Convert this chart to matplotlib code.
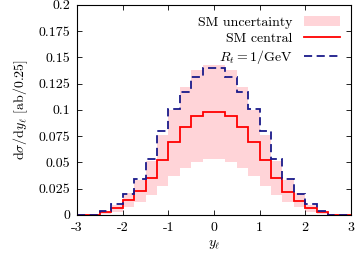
import matplotlib
matplotlib.use("Agg")
import matplotlib.pyplot as plt
import numpy as np
from matplotlib.lines import Line2D
from matplotlib.patches import Patch
from matplotlib.ticker import FuncFormatter, MultipleLocator

# bin edges in y_l, width 0.25
edges = np.arange(-3.0, 3.0001, 0.25)

# SM central prediction per bin
sm_central = [0, 0, 0.0028, 0.0062, 0.0140, 0.0225, 0.0350, 0.0520, 0.0690, 0.0835, 0.0938, 0.0977,
              0.0977, 0.0938, 0.0835, 0.0690, 0.0520, 0.0350, 0.0222, 0.0135, 0.0064, 0.0029, 0, 0]
# SM uncertainty band
sm_upper = [0, 0, 0.0030, 0.0098, 0.0210, 0.0335, 0.0515, 0.0762, 0.1000, 0.1215, 0.1375, 0.1430,
            0.1430, 0.1375, 0.1215, 0.1000, 0.0762, 0.0515, 0.0335, 0.0210, 0.0098, 0.0032, 0, 0]
sm_lower = [0, 0, 0.0008, 0.0030, 0.0079, 0.0127, 0.0190, 0.0279, 0.0372, 0.0450, 0.0508, 0.0530,
            0.0530, 0.0508, 0.0450, 0.0372, 0.0279, 0.0190, 0.0127, 0.0079, 0.0030, 0.0008, 0, 0]
# R_t = 1/GeV
rt_1gev = [0, 0, 0.0033, 0.0102, 0.0197, 0.0343, 0.0530, 0.0797, 0.1010, 0.1167, 0.1314, 0.1395,
           0.1395, 0.1314, 0.1167, 0.1010, 0.0797, 0.0530, 0.0343, 0.0197, 0.0102, 0.0038, 0, 0]

plt.rcParams["font.family"] = "serif"
plt.rcParams["font.serif"] = ["cmr10", "DejaVu Serif"]
plt.rcParams["mathtext.fontset"] = "cm"
plt.rcParams["axes.formatter.use_mathtext"] = True
plt.rcParams["font.size"] = 10

band_col = "#ffd4d8"
red = "#ff0000"
blue = "#1a1a8a"

fig = plt.figure(figsize=(3.57, 2.54), dpi=100)
ax = fig.add_axes([0.216, 0.154, 0.767, 0.827])

ax.stairs(sm_upper, edges, baseline=sm_lower, fill=True, color=band_col, lw=0)
ax.stairs(sm_central, edges, color=red, lw=1.3)
ax.stairs(rt_1gev, edges, color=blue, lw=1.3, linestyle=(0, (4.5, 2.5)))

ax.set_xlim(-3, 3)
ax.set_ylim(0, 0.2)
ax.xaxis.set_major_locator(MultipleLocator(1))
ax.yaxis.set_major_locator(MultipleLocator(0.025))
ax.xaxis.set_major_formatter(FuncFormatter(lambda v, p: "%g" % v))
ax.yaxis.set_major_formatter(FuncFormatter(lambda v, p: "%g" % round(v, 4)))
ax.tick_params(direction="in", length=3.5, width=0.6, top=True, right=True, pad=5)
for s in ax.spines.values():
    s.set_linewidth(0.8)

ax.set_xlabel(r"$y_\ell$", labelpad=3)
ax.set_ylabel(r"$\mathrm{d}\sigma/\mathrm{d}y_\ell$ [ab/0.25]", labelpad=6)

handles = [
    Patch(facecolor=band_col, edgecolor="none"),
    Line2D([], [], color=red, lw=1.3),
    Line2D([], [], color=blue, lw=1.3, linestyle=(0, (4.5, 2.5))),
]
labels = ["SM uncertainty", "SM central", r"$R_t = 1/\mathrm{GeV}$"]
ax.legend(handles, labels, loc="upper right", frameon=False, markerfirst=False,
          handlelength=2.6, labelspacing=0.25, borderaxespad=0.4, handletextpad=0.8)

fig.savefig("out.png", dpi=100)
